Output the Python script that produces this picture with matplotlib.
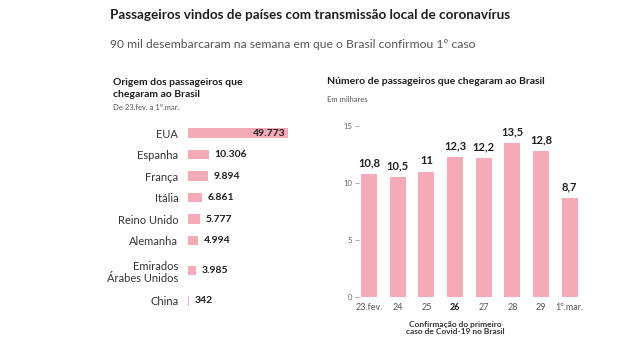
import matplotlib.pyplot as plt
import matplotlib.transforms as mtransforms

plt.rcParams['font.family'] = ['Lato', 'DejaVu Sans']

# Left panel data: origin of passengers
countries = ['EUA', 'Espanha', 'França', 'Itália', 'Reino Unido', 'Alemanha',
             'Emirados\nÁrabes Unidos', 'China']
country_values = [49773, 10306, 9894, 6861, 5777, 4994, 3985, 342]
country_labels = ['49.773', '10.306', '9.894', '6.861', '5.777', '4.994', '3.985', '342']

# Right panel data: daily arrivals (thousands)
days = ['23.fev.', '24', '25', '26', '27', '28', '29', '1º.mar.']
arrivals = [10.8, 10.5, 11, 12.3, 12.2, 13.5, 12.8, 8.7]
arrival_labels = ['10,8', '10,5', '11', '12,3', '12,2', '13,5', '12,8', '8,7']
highlight_day = '26'

PINK = '#f4abb7'
DARK = '#1e1e1e'
GRAY = '#555555'

W, H = 630, 361
fig = plt.figure(figsize=(W / 100, H / 100), dpi=100)


def px_axes(left, top, right, bottom):
    return fig.add_axes([left / W, 1 - bottom / H, (right - left) / W, (bottom - top) / H])


def fig_text(x, y, s, **kw):
    fig.text(x / W, 1 - y / H, s, **kw)


# Headings
fig_text(110, 15, 'Passageiros vindos de países com transmissão local de coronavírus',
         fontsize=9.7, fontweight='bold', color=DARK, va='center')
fig_text(110, 44, '90 mil desembarcaram na semana em que o Brasil confirmou 1º caso',
         fontsize=8.7, color=GRAY, va='center')

fig_text(113, 88.5, 'Origem dos passageiros que\nchegaram ao Brasil',
         fontsize=7.5, fontweight='bold', color=DARK, va='center', linespacing=1.35)
fig_text(113, 107, 'De 23.fev. a 1º.mar.', fontsize=5.5, color=GRAY, va='center')

fig_text(327, 82, 'Número de passageiros que chegaram ao Brasil',
         fontsize=7.5, fontweight='bold', color=DARK, va='center')
fig_text(327, 100, 'Em milhares', fontsize=5.5, color=GRAY, va='center')

# ---- Left: horizontal bars ----
row_px = 21.5
pos = [0.0]
for i in range(1, len(countries)):
    extra = 0.4 * (countries[i].count('\n') + countries[i - 1].count('\n'))
    pos.append(pos[-1] + 1 + extra)

top_y, bot_y = -0.5, pos[-1] + 0.5
axl = px_axes(188, 133 + top_y * row_px, 288, 133 + bot_y * row_px)
axl.barh(pos, country_values, height=0.45, color=PINK)
axl.set_xlim(0, max(country_values))
axl.set_ylim(bot_y, top_y)
axl.set_yticks(pos)
axl.set_yticklabels(countries, fontsize=8, color='#333333', ha='right', linespacing=1.15)
axl.tick_params(axis='y', length=0, pad=7)
axl.set_xticks([])
for s in axl.spines.values():
    s.set_visible(False)
for i, (v, lab) in enumerate(zip(country_values, country_labels)):
    if i == 0:
        axl.annotate(lab, (v, pos[i]), xytext=(-2, 0), textcoords='offset points',
                     ha='right', va='center', fontsize=7.5, fontweight='bold', color=DARK)
    else:
        axl.annotate(lab, (v, pos[i]), xytext=(4, 0), textcoords='offset points',
                     ha='left', va='center', fontsize=7.5, fontweight='bold', color=DARK)

# ---- Right: vertical bars ----
axr = px_axes(354.7, 126, 584, 297)
x = list(range(len(days)))
axr.bar(x, arrivals, width=0.55, color=PINK)
axr.set_xlim(-0.5, len(days) - 0.5)
axr.set_ylim(0, 15)
axr.set_yticks([0, 5, 10, 15])
axr.tick_params(axis='y', direction='in', length=3, width=0.6, color='#999999',
                labelsize=5.5, labelcolor='#666666', pad=2)
axr.set_xticks(x)
axr.set_xticklabels(days, fontsize=6.5, color=GRAY)
axr.tick_params(axis='x', length=0, pad=4)
for lbl in axr.get_xticklabels():
    if lbl.get_text() == highlight_day:
        lbl.set_fontweight('bold')
        lbl.set_color(DARK)
for s in axr.spines.values():
    s.set_visible(False)
for xi, v, lab in zip(x, arrivals, arrival_labels):
    axr.annotate(lab, (xi, v), xytext=(0, 4), textcoords='offset points',
                 ha='center', va='bottom', fontsize=8, fontweight='bold', color=DARK)

trans = mtransforms.blended_transform_factory(axr.transData, fig.transFigure)
axr.text(days.index(highlight_day), 1 - 328 / H,
         'Confirmação do primeiro\ncaso de Covid-19 no Brasil', transform=trans,
         ha='center', va='center', fontsize=6, fontweight='bold', color='#333333',
         linespacing=1.1)

fig.savefig('out.png', dpi=100, facecolor='white')
